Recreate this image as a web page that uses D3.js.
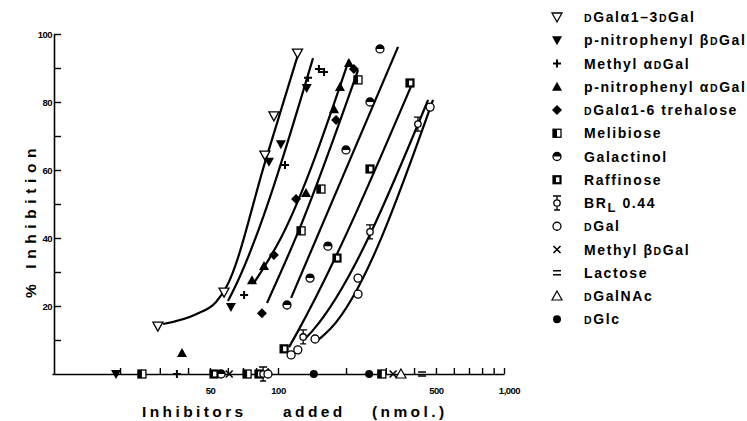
<!DOCTYPE html>
<html>
<head>
<meta charset="utf-8">
<script src="https://cdn.jsdelivr.net/npm/d3@7"></script>
<style>
body{margin:0;background:#fff;}
text{font-family:"Liberation Sans",Arial,sans-serif;fill:#000;}
</style>
</head>
<body>
<script>
// compounds, in legend order
var compounds = ["DGalα1–3DGal","p-nitrophenyl βDGal","Methyl αDGal","p-nitrophenyl αDGal",
	"DGalα1-6 trehalose","Melibiose","Galactinol","Raffinose","BR_L0.44","DGal",
	"Methyl βDGal","Lactose","DGalNAc","DGlc"];

// measured points [nmol added, % inhibition]
var ptsGal13 = [[29.4,14.1],[57.7,24.1],[87.5,64.4],[95.9,75.9],[122,94.4]];
var ptsNitroBeta = [[19.2,0],[61.9,19.7],[91.2,62.4],[103,67.6],[134,84.1]];
var ptsMethylAlpha = [[35.7,0],[70.8,23.2],[107.4,61.5],[135.8,87.1],[151.7,89.7],[159.9,88.8]];
var ptsNitroAlpha = [[37.6,6.2],[76.7,27.6],[86.7,31.8],[133,53.2],[177,77.9],[188,84.4],[206,91.5]];
var ptsTrehalose = [[84.9,17.9],[95.9,35],[120.2,51.5],[180.7,74.7],[216.7,89.7]];
var ptsMelibiose = [[25,0],[73,0],[126.5,42.1],[154.9,54.4],[225.9,86.5],[288,0]];
var ptsGalactinol = [[56,0],[109.6,20.3],[138.6,28.2],[166.3,37.6],[199.9,65.9],[255.3,80],[282.6,95.6]];
var ptsRaffinose = [[52.1,0],[82.4,0],[106.4,7.4],[182.4,34.1],[255.3,60.3],[383.7,85.6]];
var ptsBRL = [[85.9,0],[129.2,10.9],[255.3,41.8],[416,73.5]];
var ptsDGal = [[90.3,0],[114.3,5.6],[122.4,7.1],[145.9,10.3],[226,28.2],[226,23.5],[471,78.5]];
var ptsMethylBeta = [[60.8,0],[323,0]];
var ptsLactose = [[434,0]];
var ptsGalNAc = [[350,0]];
var ptsGlc = [[144,0],[253,0]];

// hand drawn curves of the original
var fitGal13 = [[31,14.7],[43.4,17.6],[53.2,21.2],[59.4,25.9],[88.2,62.9],[122.4,93.8]];
var fitNitroBeta = [[60.1,21.5],[63.9,25],[142.9,92.9]];
var fitNitroAlpha = [[78.3,26.8],[103,40],[206,92.4]];
var fitTrehalose = [[89.4,20.9],[123.9,42.4],[226,89.4]];
var fitGalactinol = [[114.3,22.4],[339.8,96.2]];
var fitRaffinose = [[111.9,7.9],[121.4,12.1],[395.5,85.9]];
var fitBRL = [[130.3,10],[142.9,12.9],[461.3,80.6]];
var fitDGal = [[148.9,9.7],[171.8,13.5],[485.3,80.6]];

var yTicks = [10,20,30,40,50,60,70,80,90,100];
var yLabels = [20,40,60,80,100];
var xTicks = [20,30,40,50,60,70,80,90,100,200,300,400,500,600,700,800,900,1000];
var xLabels = [50,100,500,1000];

var allPts = [ptsGal13,ptsNitroBeta,ptsMethylAlpha,ptsNitroAlpha,ptsTrehalose,ptsMelibiose,
	ptsGalactinol,ptsRaffinose,ptsBRL,ptsDGal,ptsMethylBeta,ptsLactose,ptsGalNAc,ptsGlc];
var allFits = [fitGal13,fitNitroBeta,fitNitroAlpha,fitTrehalose,fitGalactinol,fitRaffinose,fitBRL,fitDGal];
var symbolNames = ["triDownOpen","triDown","plus","triUp","diamond","squareHalf","circleHalf",
	"squareBold","brl","circleOpen","cross","equals","triUpOpen","circleFill"];

var svg = d3.select("body").append("svg").attr("width",747).attr("height",421);

var x = d3.scaleLog().domain([10,1000]).range([52,504]);
var y = d3.scaleLinear().domain([0,100]).range([374,34]);

// axes
var yAxis = d3.axisLeft(y).tickValues(yTicks).tickSizeInner(-7).tickSizeOuter(0).tickPadding(2)
	.tickFormat(function(d){ return yLabels.indexOf(d) >= 0 ? d : ""; });
var gy = svg.append("g").attr("transform","translate(54,0)").call(yAxis);

var xAxis = d3.axisBottom(x).tickValues(xTicks).tickSizeInner(-6).tickSizeOuter(0).tickPadding(13)
	.tickFormat(function(d){ return xLabels.indexOf(d) >= 0 ? d3.format(",")(d) : ""; });
var gx = svg.append("g").attr("transform","translate(0,374)").call(xAxis);

[gx,gy].forEach(function(g){
	g.select(".domain").attr("stroke","#000").attr("stroke-width",1.6);
	g.selectAll(".tick line").attr("stroke","#000").attr("stroke-width",1.4);
	g.selectAll("text").attr("font-family","Liberation Sans, Arial").attr("font-weight","bold")
		.attr("font-size",9.5).attr("letter-spacing",-0.5).attr("fill","#000");
});
gx.selectAll(".tick text").filter(function(d){ return d===1000; }).attr("dx",5);

// symbols
function drawSymbol(g, type){
	var s = 1.3;
	if(type==="triDownOpen") g.append("path").attr("d","M-5,-4L5,-4L0,5Z").attr("fill","#fff").attr("stroke","#000").attr("stroke-width",s);
	if(type==="triDown") g.append("path").attr("d","M-5,-4L5,-4L0,5Z").attr("fill","#000");
	if(type==="plus") g.append("path").attr("d","M-4,0H4M0,-4V4").attr("stroke","#000").attr("stroke-width",2);
	if(type==="triUp") g.append("path").attr("d","M0,-5L5,4L-5,4Z").attr("fill","#000");
	if(type==="diamond") g.append("path").attr("d","M0,-5L5,0L0,5L-5,0Z").attr("fill","#000");
	if(type==="squareHalf"){
		g.append("rect").attr("x",-4).attr("y",-4).attr("width",8).attr("height",8).attr("fill","#fff").attr("stroke","#000").attr("stroke-width",s);
		g.append("rect").attr("x",-4).attr("y",-4).attr("width",4).attr("height",8).attr("fill","#000");
	}
	if(type==="circleHalf"){
		g.append("circle").attr("r",4).attr("fill","#fff").attr("stroke","#000").attr("stroke-width",s);
		g.append("path").attr("d","M-4,0A4,4 0 0 1 4,0Z").attr("fill","#000");
	}
	if(type==="squareBold"){
		g.append("rect").attr("x",-3.5).attr("y",-3.5).attr("width",7).attr("height",7).attr("fill","#fff").attr("stroke","#000").attr("stroke-width",2.2);
		g.append("rect").attr("x",-3.5).attr("y",-3.5).attr("width",2.5).attr("height",7).attr("fill","#000");
	}
	if(type==="brl"){
		g.append("circle").attr("r",3.2).attr("fill","#fff").attr("stroke","#000").attr("stroke-width",s);
		g.append("path").attr("d","M-4,-7H4M0,-7V-3.2M0,3.2V7M-3,7H3").attr("stroke","#000").attr("stroke-width",s).attr("fill","none");
	}
	if(type==="circleOpen") g.append("circle").attr("r",4).attr("fill","#fff").attr("stroke","#000").attr("stroke-width",s);
	if(type==="cross") g.append("path").attr("d","M-3.5,-3.5L3.5,3.5M3.5,-3.5L-3.5,3.5").attr("stroke","#000").attr("stroke-width",1.6);
	if(type==="equals") g.append("path").attr("d","M-4,-2H4M-4,2H4").attr("stroke","#000").attr("stroke-width",1.7);
	if(type==="triUpOpen") g.append("path").attr("d","M0,-5L5,4L-5,4Z").attr("fill","#fff").attr("stroke","#000").attr("stroke-width",1.2);
	if(type==="circleFill") g.append("circle").attr("r",4).attr("fill","#000");
}

// fitted curves
var line = d3.line()
	.x(function(d){ return x(d[0]); })
	.y(function(d){ return y(d[1]); })
	.curve(d3.curveMonotoneX);

svg.append("g").selectAll("path.fit")
	.data(allFits)
	.enter()
	.append("path")
	.attr("class","fit")
	.attr("d",line)
	.attr("fill","none")
	.attr("stroke","#000")
	.attr("stroke-width",2.2);

// data points
allPts.forEach(function(pts,i){
	svg.append("g").selectAll("g")
		.data(pts)
		.enter()
		.append("g")
		.attr("transform",function(d){ return "translate("+x(d[0])+","+y(d[1])+")"; })
		.each(function(){ drawSymbol(d3.select(this), symbolNames[i]); });
});

// legend
function fillLabel(t, label){
	label.split(/(_L|D(?=G))/).forEach(function(p){
		if(p==="") return;
		if(p==="_L"){
			t.append("tspan").attr("dy",4).attr("font-size",13).text("L");
			t.append("tspan").attr("dy",-4).text(" ");
		}
		else if(p==="D") t.append("tspan").attr("font-size",10.5).text("D");
		else t.append("tspan").text(p);
	});
}

var legend = svg.append("g").selectAll("g")
	.data(compounds)
	.enter()
	.append("g")
	.attr("transform",function(d,i){ return "translate(557,"+(17+i*23.25)+")"; });

legend.each(function(d,i){
	var g = d3.select(this);
	drawSymbol(g.append("g"), symbolNames[i]);
	var t = g.append("text").attr("x",27).attr("y",5)
		.attr("font-size",14).attr("font-weight","bold").attr("letter-spacing",1.6);
	fillLabel(t,d);
});

// axis titles
svg.append("text")
	.attr("transform","translate(36,298) rotate(-90)")
	.attr("font-size",15.5).attr("font-weight","bold").attr("letter-spacing",5.6)
	.text("% Inhibition");

var xTitle = ["Inhibitors","added","(nmol.)"];
var xTitleAt = [142,283,372];
svg.append("g").selectAll("text")
	.data(xTitle)
	.enter()
	.append("text")
	.attr("x",function(d,i){ return xTitleAt[i]; })
	.attr("y",417)
	.attr("font-size",15.5).attr("font-weight","bold").attr("letter-spacing",3.4)
	.text(function(d){ return d; });
</script>
</body>
</html>
